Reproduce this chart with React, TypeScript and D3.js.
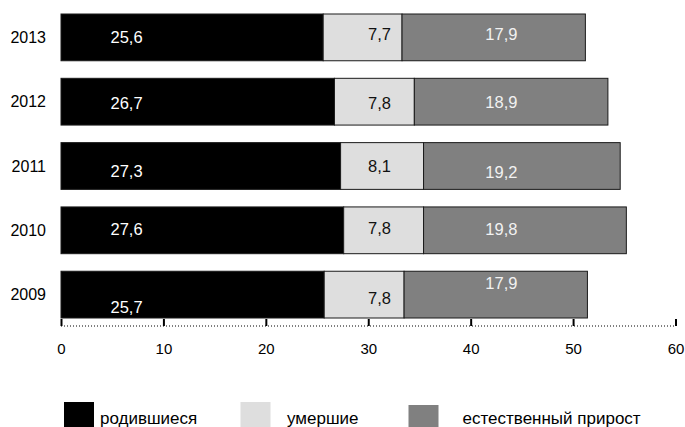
import { useEffect, useRef } from "react";
import * as d3 from "d3";

// Рождаемость и смертность по годам: стек родившиеся + умершие + естественный прирост.

const W = 685;
const H = 427;

const years = ["2013", "2012", "2011", "2010", "2009"];
const born = [25.6, 26.7, 27.3, 27.6, 25.7];
const died = [7.7, 7.8, 8.1, 7.8, 7.8];
const growth = [17.9, 18.9, 19.2, 19.8, 17.9];
const seriesNames = ["родившиеся", "умершие", "естественный прирост"];
const xTicks = [0, 10, 20, 30, 40, 50, 60];

const COLORS = ["#000000", "#dedede", "#808080"];
const LABEL_COLORS = ["#ffffff", "#111111", "#f2f2f2"];
// где стоят подписи значений (в единицах оси x) и их сдвиг по вертикали
const LABEL_AT = [6.4, 31.1, 43.0];
const LABEL_DY = [
  [0, -3, -3],
  [1, 1, 0.5],
  [5, 0, 6.5],
  [-1, -2.5, -1],
  [12, 3.5, -12],
];

const FONT = "'Liberation Sans', Arial, Helvetica, sans-serif";

export default function App() {
  const axisRef = useRef<SVGGElement>(null);

  const x = d3.scaleLinear().domain([0, 60]).range([61, 675.5]);
  const y = d3
    .scaleBand<string>()
    .domain(years)
    .range([14, 318])
    .paddingInner(0.273)
    .paddingOuter(0);

  const rows = years.map((yr, i) => {
    const vals = [born[i], died[i], growth[i]];
    let acc = 0;
    const segs = vals.map((v, k) => {
      const s = { k, v, x0: acc, x1: acc + v };
      acc += v;
      return s;
    });
    return { yr, i, segs };
  });

  useEffect(() => {
    const g = d3.select(axisRef.current);
    g.selectAll("*").remove();
    g.call(
      d3
        .axisBottom(x)
        .tickValues(xTicks)
        .tickSize(-7)
        .tickPadding(17)
        .tickFormat((d) => String(d)),
    );
    g.select(".domain").remove();
    g.selectAll(".tick line").attr("stroke", "#000").attr("stroke-width", 2);
    g.selectAll(".tick text")
      .attr("fill", "#000")
      .style("font-size", "15px")
      .style("font-family", FONT);
  }, []);

  const legendItems = [
    { box: 64, y: 402, text: 100 },
    { box: 240.5, y: 402, text: 287 },
    { box: 408.5, y: 405, text: 462.5 },
  ];

  return (
    <svg
      width={W}
      height={H}
      style={{ position: "absolute", left: 0, top: 0, background: "#fff" }}
      fontFamily={FONT}
    >
      {rows.map((r) => {
        const by = y(r.yr) ?? 0;
        const bh = y.bandwidth();
        const cy = by + bh / 2;
        return (
          <g key={r.yr}>
            <text
              x={46}
              y={cy}
              dy="0.36em"
              textAnchor="end"
              fontSize={16}
              fill="#000"
            >
              {r.yr}
            </text>
            {r.segs.map((s) => (
              <rect
                key={s.k}
                x={x(s.x0)}
                y={by}
                width={x(s.x1) - x(s.x0)}
                height={bh}
                fill={COLORS[s.k]}
                stroke="#1a1a1a"
                strokeWidth={1}
              />
            ))}
            {r.segs.map((s) => (
              <text
                key={"l" + s.k}
                x={x(LABEL_AT[s.k])}
                y={cy + LABEL_DY[r.i][s.k]}
                dy="0.36em"
                textAnchor="middle"
                fontSize={16.5}
                fill={LABEL_COLORS[s.k]}
              >
                {d3.format(".1f")(s.v).replace(".", ",")}
              </text>
            ))}
          </g>
        );
      })}

      <line
        x1={x(0)}
        x2={x(60)}
        y1={326}
        y2={326}
        stroke="#000"
        strokeWidth={1}
        strokeDasharray="1,2"
      />
      <g ref={axisRef} transform="translate(0,326)" />

      {seriesNames.map((name, k) => (
        <g key={name}>
          <rect
            x={legendItems[k].box}
            y={legendItems[k].y}
            width={30}
            height={30}
            fill={COLORS[k]}
          />
          <text x={legendItems[k].text} y={424} fontSize={17} fill="#000">
            {name}
          </text>
        </g>
      ))}
    </svg>
  );
}
